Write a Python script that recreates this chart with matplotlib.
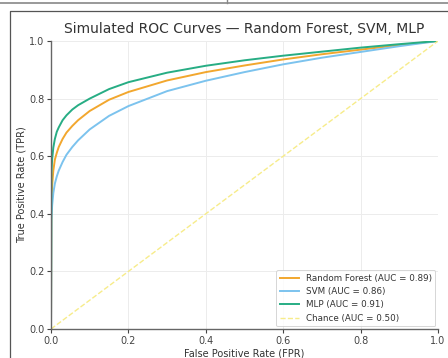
import matplotlib
matplotlib.use('Agg')
import matplotlib.pyplot as plt
from matplotlib.lines import Line2D

# data
fpr = [0.0, 0.001, 0.003, 0.006, 0.01, 0.015, 0.02, 0.03, 0.04, 0.055, 0.07, 0.1, 0.15, 0.2,
	   0.3, 0.4, 0.5, 0.6, 0.7, 0.8, 0.9, 1.0]
tpr_rf = [0.0, 0.44, 0.50, 0.55, 0.588, 0.612, 0.632, 0.66, 0.682, 0.705, 0.725, 0.757, 0.796, 0.823,
		  0.863, 0.892, 0.915, 0.936, 0.954, 0.970, 0.986, 1.0]
tpr_svm = [0.0, 0.38, 0.43, 0.472, 0.505, 0.53, 0.55, 0.58, 0.605, 0.632, 0.655, 0.693, 0.74, 0.774,
		   0.826, 0.862, 0.892, 0.919, 0.942, 0.962, 0.982, 1.0]
tpr_mlp = [0.0, 0.54, 0.59, 0.63, 0.66, 0.685, 0.70, 0.725, 0.742, 0.762, 0.777, 0.80, 0.833, 0.857,
		   0.89, 0.914, 0.933, 0.949, 0.963, 0.977, 0.989, 1.0]
chance = [0.0, 1.0]

labels = ['Random Forest (AUC = 0.89)', 'SVM (AUC = 0.86)', 'MLP (AUC = 0.91)', 'Chance (AUC = 0.50)']
colours = ['#f2a72e', '#7cc3ee', '#27ad84', '#f7ec8a']

fig = plt.figure(figsize=(4.48, 3.58), dpi=100)

# screenshot frame around the figure
fig.add_artist(Line2D([0, 1], [1 - 2.5 / 358, 1 - 2.5 / 358], color='#888888', lw=1.2))
fig.add_artist(Line2D([227 / 448, 227 / 448], [1 - 2.5 / 358, 1], color='#888888', lw=1.0))
fig.add_artist(Line2D([10 / 448, 10 / 448, 1], [0, 1 - 11 / 358, 1 - 11 / 358], color='#555555', lw=0.9))

ax = fig.add_axes([51 / 448, 29 / 358, 387 / 448, 288 / 358])

ax.plot(fpr, tpr_rf, color=colours[0], lw=1.4, label=labels[0])
ax.plot(fpr, tpr_svm, color=colours[1], lw=1.4, label=labels[1])
ax.plot(fpr, tpr_mlp, color=colours[2], lw=1.4, label=labels[2])
ax.plot(chance, chance, color=colours[3], lw=1.0, ls='--', label=labels[3])

ax.set_xlim(0, 1)
ax.set_ylim(0, 1)
ax.grid(True, color='#ececec', lw=0.7)
ax.set_axisbelow(True)
for side in ['top', 'right']:
	ax.spines[side].set_visible(False)
for side in ['left', 'bottom']:
	ax.spines[side].set_color('#666666')
	ax.spines[side].set_linewidth(1.0)
ax.tick_params(labelsize=7, colors='#444444', length=3, width=0.8, pad=1.8)

ax.set_title('Simulated ROC Curves \u2014 Random Forest, SVM, MLP', fontsize=10, color='#333333', pad=6)
ax.set_xlabel('False Positive Rate (FPR)', fontsize=7, color='#333333', labelpad=2)
ax.set_ylabel('True Positive Rate (TPR)', fontsize=7, color='#333333', labelpad=2)

leg = ax.legend(loc='lower right', fontsize=6.3, frameon=True, borderaxespad=0.3, handlelength=2.2)
leg.get_frame().set_edgecolor('#cccccc')
leg.get_frame().set_linewidth(0.7)
for t in leg.get_texts():
	t.set_color('#333333')

fig.savefig('out.png', dpi=100)
